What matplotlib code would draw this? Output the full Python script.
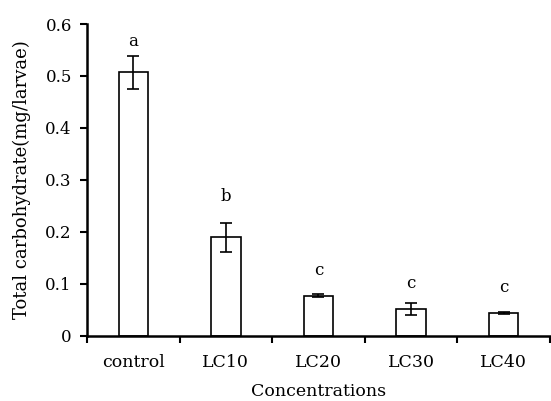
import numpy as np
import matplotlib.pyplot as plt

plt.rcParams['font.family'] = ['DejaVu Serif']

categories = ['control', 'LC10', 'LC20', 'LC30', 'LC40']
values = [0.507, 0.189, 0.077, 0.051, 0.044]
errors = [0.032, 0.027, 0.003, 0.011, 0.002]
letters = ['a', 'b', 'c', 'c', 'c']
letter_y = [0.566, 0.267, 0.126, 0.100, 0.092]

fig = plt.figure(figsize=(5.51, 4.01), dpi=100)
ax = fig.add_axes([0.158, 0.163, 0.84, 0.777])

x = np.arange(len(categories))
ax.bar(x, values, width=0.32, color='white', edgecolor='black', linewidth=1.2)
ax.errorbar(x, values, yerr=errors, fmt='none', ecolor='black', elinewidth=1.2,
            capsize=4.5, capthick=1.2)

for xi, t, ly in zip(x, letters, letter_y):
    ax.text(xi, ly, t, ha='center', va='center', fontsize=12)

ax.set_xlim(-0.5, len(categories) - 0.5)
ax.set_ylim(0, 0.6)
ax.set_yticks([0, 0.1, 0.2, 0.3, 0.4, 0.5, 0.6])
ax.set_yticklabels(['0', '0.1', '0.2', '0.3', '0.4', '0.5', '0.6'], fontsize=12)

ax.set_xticks(np.arange(len(categories) + 1) - 0.5)
ax.set_xticklabels([])
ax.set_xticks(x, minor=True)
ax.set_xticklabels(categories, minor=True, fontsize=12.5)
ax.tick_params(axis='x', which='minor', length=0, pad=13)
ax.tick_params(axis='x', which='major', length=5, width=1.5, direction='out')
ax.tick_params(axis='y', length=5, width=1.5, direction='out', pad=6)

for s in ['top', 'right']:
    ax.spines[s].set_visible(False)
for s in ['left', 'bottom']:
    ax.spines[s].set_linewidth(1.8)

ax.set_xlabel('Concentrations', fontsize=12.5, labelpad=9)
ax.set_ylabel('Total carbohydrate(mg/larvae)', fontsize=13, labelpad=10)

fig.savefig('out.png', dpi=100)
